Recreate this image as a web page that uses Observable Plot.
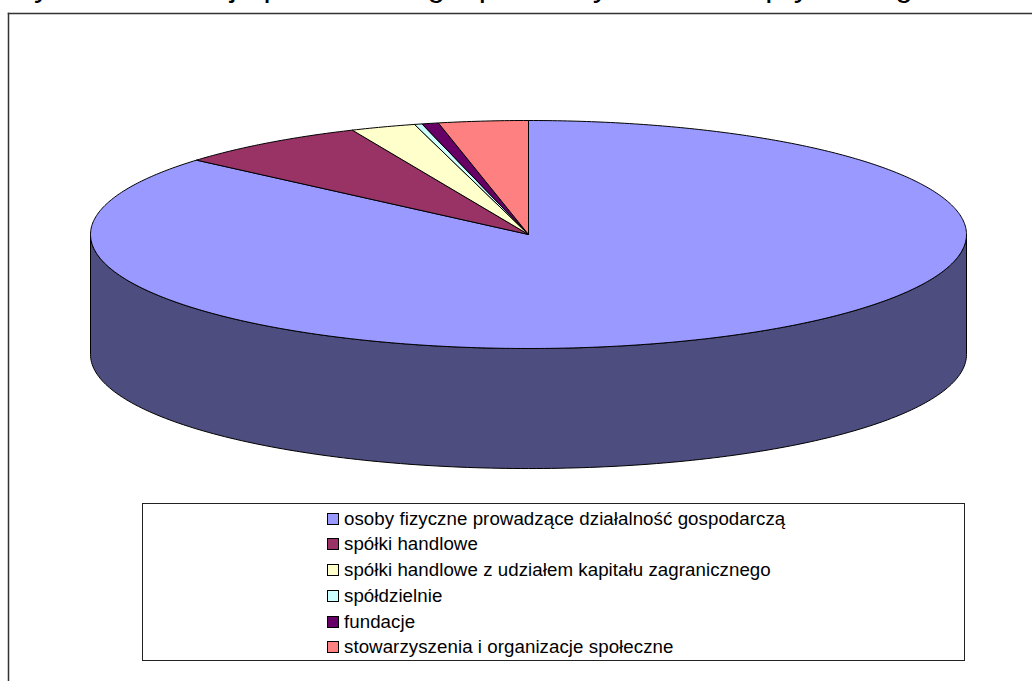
<!DOCTYPE html>
<html lang="pl">
<head>
<meta charset="utf-8">
<script src="https://cdn.jsdelivr.net/npm/d3@7"></script>
<script src="https://cdn.jsdelivr.net/npm/@observablehq/plot@0.6"></script>
<style>
html,body{margin:0;padding:0;width:1032px;height:681px;overflow:hidden;background:#fff;font-family:"Liberation Sans",Arial,sans-serif}
#chart{position:absolute;left:0;top:0}
#title{position:absolute;left:11px;top:-31px;font-size:32px;line-height:32px;white-space:nowrap;color:#000}
#legend{position:absolute;left:142px;top:503px;width:821px;height:156px;border:1px solid #222;background:#fff;box-sizing:content-box}
.row{position:absolute;left:184px;height:26px;line-height:26px;font-size:18.7px;letter-spacing:.06px;color:#000;white-space:nowrap}
.sw{position:absolute;left:0;top:7px;width:10px;height:10px;border:1px solid #000}
.lb{position:absolute;left:17px;top:0}
</style>
</head>
<body>
<div id="chart"></div>
<div id="title"></div>
<div id="legend"></div>
<script>
const titleText = "Rycina 1 Lokacja podmiotów gospodarczych sektora prywatnego w mieście";
const categories = [
  "osoby fizyczne prowadzące działalność gospodarczą",
  "spółki handlowe",
  "spółki handlowe z udziałem kapitału zagranicznego",
  "spółdzielnie",
  "fundacje",
  "stowarzyszenia i organizacje społeczne"
];
const shares = [86.3, 7.1, 2.4, 0.28, 0.61, 3.3];
const colors = ["#9999FF", "#993366", "#FFFFCC", "#CCFFFF", "#660066", "#FF8080"];
const sideColor = "#4D4D80";
const depth = 1.053; // wall height of the pie, in units of the ellipse's minor radius

const arcs = d3.pie().sort(null).value((d, i) => shares[i]).startAngle(0).endAngle(2 * Math.PI)(categories);

const wedgePoints = arcs.flatMap(a => {
  const steps = Math.max(2, Math.ceil((a.endAngle - a.startAngle) * 90));
  const rim = d3.range(steps + 1).map(k => {
    const t = a.startAngle + (a.endAngle - a.startAngle) * k / steps;
    return {cat: a.data, x: Math.sin(t), y: Math.cos(t)};
  });
  return [{cat: a.data, x: 0, y: 0}, ...rim, {cat: a.data, x: 0, y: 0}];
});

const lower = d3.range(181).map(k => {
  const t = Math.PI / 2 + Math.PI * k / 180;
  return {x: Math.sin(t), y: Math.cos(t)};
});
const wall = [...lower, ...lower.slice().reverse().map(p => ({x: p.x, y: p.y - depth}))];
wall.push(wall[0]);

const plot = Plot.plot({
  width: 1032,
  height: 681,
  marginLeft: 8, marginTop: 13, marginRight: 0, marginBottom: 0,
  style: {background: "transparent"},
  x: {domain: [-1, 1], range: [90, 966], axis: null},
  y: {domain: [-1, 1], range: [348, 120], axis: null},
  color: {domain: categories, range: colors},
  marks: [
    Plot.frame({anchor: "left", stroke: "#333", strokeWidth: 1.5}),
    Plot.frame({anchor: "top", stroke: "#333", strokeWidth: 1.5}),
    Plot.line(wall, {x: "x", y: "y", fill: sideColor, stroke: "#000", strokeWidth: 1, curve: "linear"}),
    Plot.line(wedgePoints, {x: "x", y: "y", z: "cat", fill: "cat", stroke: "#000", strokeWidth: 1, curve: "linear"})
  ]
});
document.getElementById("chart").appendChild(plot);
document.getElementById("title").textContent = titleText;

const legend = d3.select("#legend");
categories.forEach((c, i) => {
  const row = legend.append("div").attr("class", "row").style("top", (1.7 + i * 25.7) + "px");
  row.append("div").attr("class", "sw").style("background", colors[i]);
  row.append("div").attr("class", "lb").text(c);
});
</script>
</body>
</html>
